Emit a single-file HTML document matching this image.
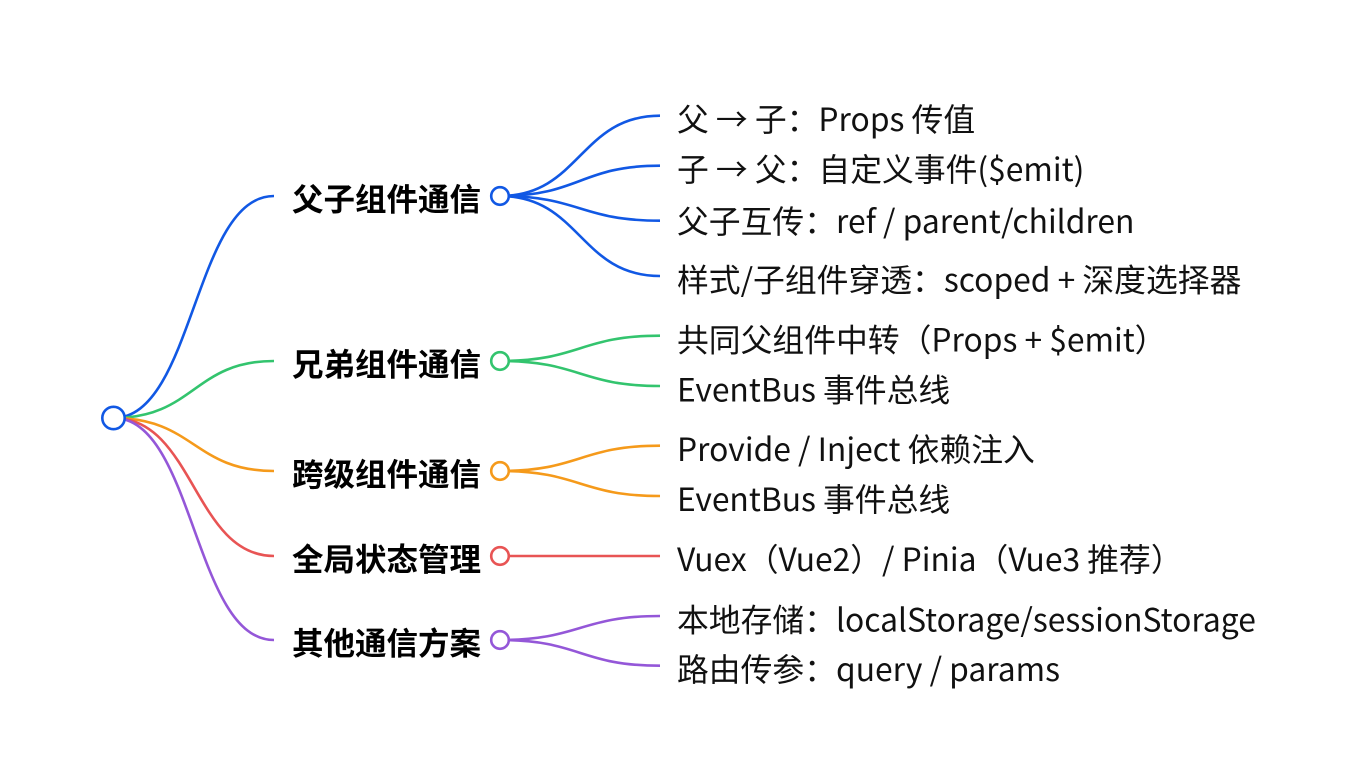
<!DOCTYPE html>
<html>
<head>
<meta charset="utf-8">
<style>
html,body{margin:0;padding:0;background:#fff;}
body{width:1356px;height:782px;overflow:hidden;}
svg{display:block;}
.t{font-family:"Noto Sans CJK SC","Liberation Sans",sans-serif;font-size:31.8px;fill:#111;}
.b{font-family:"Noto Sans CJK SC","Liberation Sans",sans-serif;font-size:31.5px;font-weight:bold;fill:#000;}
path{fill:none;stroke-width:2.6;}
circle{fill:#fff;stroke-width:2.6;}
</style>
</head>
<body>
<svg width="1356" height="782" viewBox="0 0 1356 782" xmlns="http://www.w3.org/2000/svg">
  <!-- root to level1 links -->
  <path d="M113.5,418 C194,418 194,196 274,196" stroke="#1158e4"/>
  <path d="M113.5,418 C194,418 194,361 274,361" stroke="#33c46e"/>
  <path d="M113.5,418 C194,418 194,471 274,471" stroke="#f59a1b"/>
  <path d="M113.5,418 C194,418 194,556 274,556" stroke="#e85454"/>
  <path d="M113.5,418 C194,418 194,640 274,640" stroke="#9457d8"/>

  <!-- blue children -->
  <path d="M500,196 C580,196 580,115.7 660,115.7" stroke="#1158e4"/>
  <path d="M500,196 C580,196 580,165.7 660,165.7" stroke="#1158e4"/>
  <path d="M500,196 C580,196 580,220.7 660,220.7" stroke="#1158e4"/>
  <path d="M500,196 C580,196 580,276 660,276" stroke="#1158e4"/>
  <!-- green children -->
  <path d="M500,361 C580,361 580,335.7 660,335.7" stroke="#33c46e"/>
  <path d="M500,361 C580,361 580,386 660,386" stroke="#33c46e"/>
  <!-- orange children -->
  <path d="M500,471 C580,471 580,445.7 660,445.7" stroke="#f59a1b"/>
  <path d="M500,471 C580,471 580,496 660,496" stroke="#f59a1b"/>
  <!-- red child -->
  <path d="M500,556 L660,556" stroke="#e85454"/>
  <!-- purple children -->
  <path d="M500,640 C580,640 580,616 660,616" stroke="#9457d8"/>
  <path d="M500,640 C580,640 580,665.7 660,665.7" stroke="#9457d8"/>

  <!-- circles -->
  <circle cx="113.5" cy="418" r="11.2" stroke="#1158e4"/>
  <circle cx="500" cy="196" r="8.8" stroke="#1158e4"/>
  <circle cx="500" cy="361" r="8.8" stroke="#33c46e"/>
  <circle cx="500" cy="471" r="8.8" stroke="#f59a1b"/>
  <circle cx="500" cy="556" r="8.8" stroke="#e85454"/>
  <circle cx="500" cy="640" r="8.8" stroke="#9457d8"/>

  <!-- level1 labels -->
  <text class="b" x="292" y="197.5" dominant-baseline="central">父子组件通信</text>
  <text class="b" x="292" y="362.5" dominant-baseline="central">兄弟组件通信</text>
  <text class="b" x="292" y="472.5" dominant-baseline="central">跨级组件通信</text>
  <text class="b" x="292" y="557.5" dominant-baseline="central">全局状态管理</text>
  <text class="b" x="292" y="641.5" dominant-baseline="central">其他通信方案</text>

  <!-- children labels -->
  <text class="t" x="677" y="118" dominant-baseline="central">父 → 子：Props 传值</text>
  <text class="t" x="677" y="168" dominant-baseline="central">子 → 父：自定义事件($emit)</text>
  <text class="t" x="677" y="220" dominant-baseline="central">父子互传：ref / parent/children</text>
  <text class="t" x="677" y="278.5" dominant-baseline="central">样式/子组件穿透：scoped + 深度选择器</text>
  <text class="t" x="677" y="338.5" dominant-baseline="central">共同父组件中转（Props + $emit）</text>
  <text class="t" x="677" y="388.5" dominant-baseline="central">EventBus 事件总线</text>
  <text class="t" x="677" y="448" dominant-baseline="central">Provide / Inject 依赖注入</text>
  <text class="t" x="677" y="498" dominant-baseline="central">EventBus 事件总线</text>
  <text class="t" x="677" y="558" dominant-baseline="central">Vuex（Vue2）/ Pinia（Vue3 推荐）</text>
  <text class="t" x="677" y="618.5" dominant-baseline="central">本地存储：localStorage/sessionStorage</text>
  <text class="t" x="677" y="668" dominant-baseline="central">路由传参：query / params</text>
</svg>
</body>
</html>
